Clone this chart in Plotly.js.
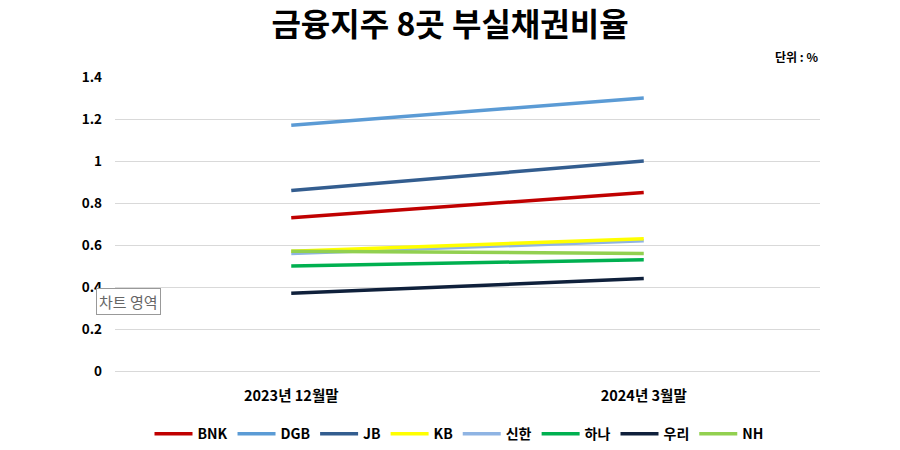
<!DOCTYPE html>
<html>
<head>
<meta charset="utf-8">
<script src="https://cdn.plot.ly/plotly-3.0.1.min.js"></script>
<style>html,body{margin:0;padding:0;background:#fff;}#chart{width:900px;height:450px;}</style>
</head>
<body>
<div id="chart"></div>
<script>
const categories = ['2023년 12월말', '2024년 3월말'];
const seriesNames = ['BNK', 'DGB', 'JB', 'KB', '신한', '하나', '우리', 'NH'];
const BNK = [0.73, 0.85];
const DGB = [1.17, 1.30];
const JB = [0.86, 1.00];
const KB = [0.57, 0.63];
const SHINHAN = [0.56, 0.62];
const HANA = [0.50, 0.53];
const WOORI = [0.37, 0.44];
const NH = [0.57, 0.56];
const yTicks = [0, 0.2, 0.4, 0.6, 0.8, 1, 1.2, 1.4];

const seriesValues = [BNK, DGB, JB, KB, SHINHAN, HANA, WOORI, NH];
const colors = ['#C00000', '#5B9BD5', '#335D8F', '#FFFF00', '#8FB4E3', '#00B050', '#0F203B', '#92D050'];
// draw order so that overlapping lines stack like the reference
const drawOrder = [0, 1, 2, 4, 3, 7, 5, 6];

const FONT = '"Noto Sans CJK KR", "Noto Sans", sans-serif';

const traces = seriesNames.map((n, i) => ({
  type: 'scatter', mode: 'lines', name: n,
  x: categories, y: seriesValues[i],
  line: {color: colors[i], width: 3.5},
  legendrank: i + 1
}));
const ordered = drawOrder.map(i => traces[i]);

const layout = {
  width: 900, height: 450,
  margin: {l: 115, r: 80, t: 77, b: 79},
  paper_bgcolor: '#fff', plot_bgcolor: '#fff',
  font: {family: FONT, color: '#000'},
  title: {text: '금융지주 8곳 부실채권비율', font: {family: FONT, size: 32, weight: 'bold', color: '#000'}, x: 0.5, xanchor: 'center', y: 0.945, yanchor: 'middle'},
  xaxis: {type: 'category', range: [-0.5, 1.5], showgrid: false, zeroline: false, showline: false, automargin: false,
    ticks: '', ticklabelstandoff: 14, tickfont: {family: FONT, size: 14.5, weight: 'bold', color: '#000'}, fixedrange: true},
  yaxis: {range: [0, 1.4], tickvals: yTicks, ticktext: yTicks.map(String), showgrid: true, gridcolor: '#D9D9D9', gridwidth: 1,
    zeroline: true, zerolinecolor: '#D9D9D9', zerolinewidth: 1, showline: false, ticks: '', ticklabelstandoff: 12, automargin: false,
    tickfont: {family: FONT, size: 13.5, weight: 'bold', color: '#000'}, fixedrange: true},
  legend: {orientation: 'h', x: 0.51, xanchor: 'center', xref: 'container', yref: 'container', y: 0.035, yanchor: 'middle', traceorder: 'normal',
    font: {family: FONT, size: 14, weight: 'bold', color: '#000'}, itemwidth: 38, tracegroupgap: 0},
  annotations: [
    {text: '단위 : %', xref: 'paper', yref: 'paper', x: 1.0, xanchor: 'right', y: 1.0, yanchor: 'bottom', yshift: 10,
     showarrow: false, font: {family: FONT, size: 12, weight: 'bold', color: '#000'}},
    {text: '차트 영역', xref: 'paper', yref: 'paper', x: -0.027, xanchor: 'left', y: 0.237, yanchor: 'middle',
     showarrow: false, font: {family: FONT, size: 15, color: '#666'}, bordercolor: '#999', borderwidth: 1, borderpad: 2, bgcolor: '#fff'}
  ],
  showlegend: true
};

Plotly.newPlot('chart', ordered, layout, {displayModeBar: false, staticPlot: true});
</script>
</body>
</html>
